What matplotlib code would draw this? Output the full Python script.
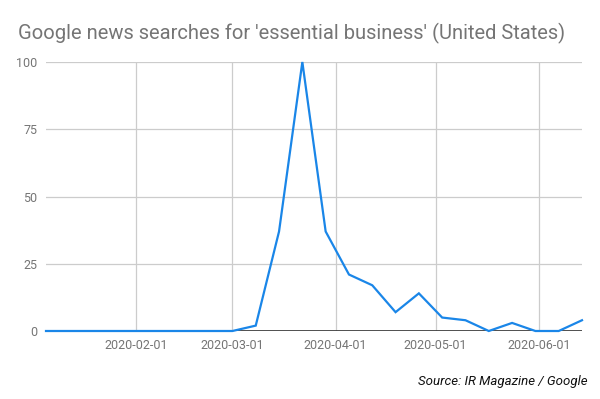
import pandas as pd
import matplotlib.pyplot as plt
import matplotlib.dates as mdates

# weekly Google Trends interest, 2020-01-05 .. 2020-06-14
weeks = pd.date_range("2020-01-05", "2020-06-14", freq="7D")
interest = [0, 0, 0, 0, 0, 0, 0, 0, 0, 2, 37, 100, 37, 21, 17, 7, 14, 5, 4, 0, 3, 0, 0, 4]
month_ticks = pd.to_datetime(["2020-02-01", "2020-03-01", "2020-04-01", "2020-05-01", "2020-06-01"])
y_ticks = [0, 25, 50, 75, 100]

plt.rcParams['font.family'] = ['Roboto', 'DejaVu Sans']

fig = plt.figure(figsize=(6, 3.99), dpi=100)
ax = fig.add_axes([46 / 600, 68 / 399, 536 / 600, 269 / 399])

ax.plot(weeks, interest, color='#1a86e8', linewidth=1.6, solid_joinstyle='miter',
        clip_on=False, zorder=5)

ax.set_xlim(weeks[0], weeks[-1])
ax.set_ylim(0, 100)
ax.set_xticks(month_ticks)
ax.xaxis.set_major_formatter(mdates.DateFormatter('%Y-%m-%d'))
ax.set_yticks(y_ticks)

ax.grid(True, color='#cccccc', linewidth=0.9)
ax.axhline(0, color='#333333', linewidth=1.2, zorder=4)
for s in ax.spines.values():
    s.set_visible(False)
ax.tick_params(length=0, labelsize=9, labelcolor='#757575')
ax.tick_params(axis='x', pad=6)
ax.tick_params(axis='y', pad=6)

fig.text(18 / 600, 1 - 33 / 399, "Google news searches for 'essential business' (United States)",
         fontsize=14.5, color='#757575', va='center', ha='left')
fig.text(588 / 600, 1 - 381 / 399, "Source: IR Magazine / Google",
         fontsize=9.5, style='italic', color='#111111', va='center', ha='right')

fig.savefig('out.png', dpi=100)
